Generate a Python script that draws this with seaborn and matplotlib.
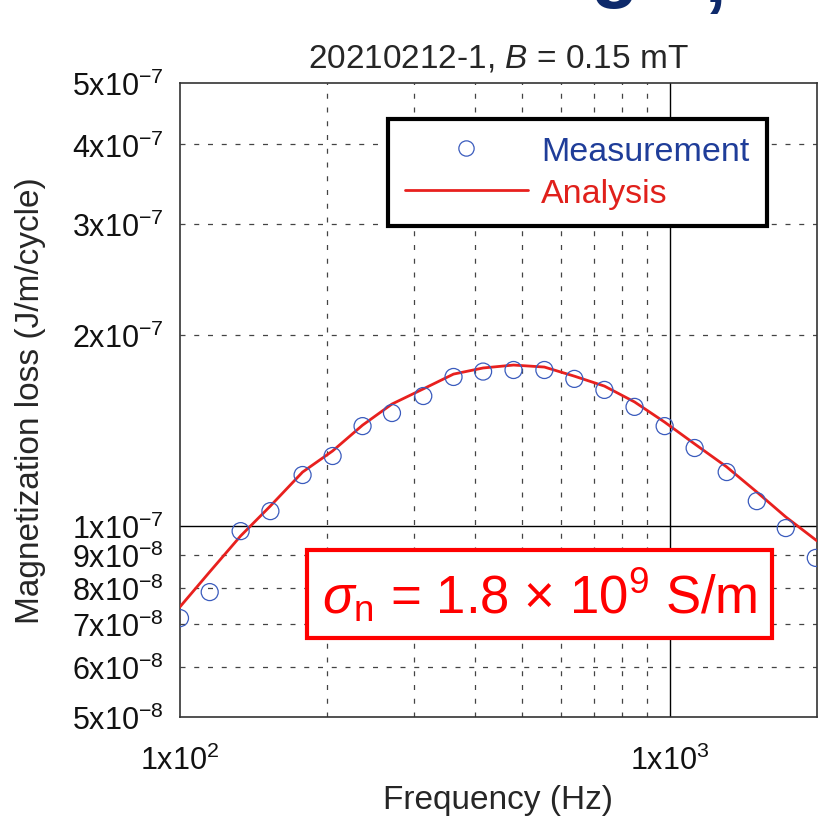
import numpy as np
import pandas as pd
import seaborn as sns
import matplotlib.pyplot as plt
from matplotlib.lines import Line2D
from matplotlib.ticker import NullLocator

meas_freq = [100, 115, 133, 153, 178, 205, 236, 271, 314, 362, 416, 480,
             555, 639, 736, 848, 977, 1125, 1308, 1507, 1727, 1989]
meas_loss = [7.16e-8, 7.87e-8, 9.82e-8, 1.056e-7, 1.204e-7, 1.290e-7, 1.438e-7,
             1.508e-7, 1.604e-7, 1.719e-7, 1.753e-7, 1.763e-7, 1.763e-7, 1.707e-7,
             1.640e-7, 1.542e-7, 1.438e-7, 1.328e-7, 1.217e-7, 1.095e-7, 9.93e-8,
             8.91e-8]

# analysis curve
ana_freq = [100, 115, 133, 153, 178, 205, 236, 271, 314, 362, 416, 480,
            555, 639, 736, 848, 977, 1125, 1308, 1507, 1727, 2000]
ana_loss = [7.46e-8, 8.47e-8, 9.65e-8, 1.076e-7, 1.217e-7, 1.314e-7, 1.443e-7,
            1.558e-7, 1.646e-7, 1.737e-7, 1.776e-7, 1.795e-7, 1.782e-7, 1.724e-7,
            1.663e-7, 1.570e-7, 1.459e-7, 1.348e-7, 1.240e-7, 1.132e-7, 1.034e-7,
            9.48e-8]

y_ticks = [5e-8, 6e-8, 7e-8, 8e-8, 9e-8, 1e-7, 2e-7, 3e-7, 4e-7, 5e-7]
y_labels = ["5x10$^{-8}$", "6x10$^{-8}$", "7x10$^{-8}$", "8x10$^{-8}$", "9x10$^{-8}$",
            "1x10$^{-7}$", "2x10$^{-7}$", "3x10$^{-7}$", "4x10$^{-7}$", "5x10$^{-7}$"]
x_ticks = [100, 1000]
x_labels = ["1x10$^{2}$", "1x10$^{3}$"]

grid_x_minor = [200, 300, 400, 500, 600, 700, 800, 900]
grid_y_minor = [6e-8, 7e-8, 8e-8, 9e-8, 2e-7, 3e-7, 4e-7]

sns.set_theme(style="white")
plt.rcParams["font.family"] = ["Liberation Sans", "DejaVu Sans"]
plt.rcParams["mathtext.fontset"] = "custom"
plt.rcParams["mathtext.rm"] = "Liberation Sans"
plt.rcParams["mathtext.it"] = "Liberation Sans:italic"

meas = pd.DataFrame({"freq": meas_freq, "loss": meas_loss})
ana = pd.DataFrame({"freq": ana_freq, "loss": ana_loss})

fig = plt.figure(figsize=(8.2, 8.2), dpi=100)
ax = fig.add_axes([0.2195, 0.1244, 0.7768, 0.7732])
ax.set_xscale("log")
ax.set_yscale("log")

for gx in grid_x_minor:
    ax.axvline(gx, color="#444444", lw=0.9, ls=(0, (4, 7)), zorder=0)
for gy in grid_y_minor:
    ax.axhline(gy, color="#444444", lw=0.9, ls=(0, (4, 7)), zorder=0)
ax.axvline(1000, color="black", lw=1, zorder=0)
ax.axhline(1e-7, color="black", lw=1, zorder=0)

sns.lineplot(data=ana, x="freq", y="loss", ax=ax, color="#e8201e", lw=2.0,
             estimator=None, sort=True, zorder=3)
sns.scatterplot(data=meas, x="freq", y="loss", ax=ax, marker="o", s=150,
                facecolor="none", edgecolor="#3a5bbd", linewidth=0.9, zorder=4)

ax.set_xlim(100, 2000)
ax.set_ylim(5e-8, 5e-7)
ax.xaxis.set_minor_locator(NullLocator())
ax.yaxis.set_minor_locator(NullLocator())
ax.set_xticks(x_ticks, x_labels)
ax.set_yticks(y_ticks, y_labels)
ax.tick_params(axis="both", length=0, labelsize=22, colors="#111111")
ax.tick_params(axis="y", pad=12)
ax.tick_params(axis="x", pad=20)

for sp in ax.spines.values():
    sp.set_color("#333333")
    sp.set_linewidth(1.2)

ax.set_title("20210212-1, $\\mathit{B}$ = 0.15 mT", fontsize=24, pad=12)
ax.set_xlabel("Frequency (Hz)", fontsize=24)
ax.set_ylabel("Magnetization loss (J/m/cycle)", fontsize=24)
ax.xaxis.set_label_coords(0.5, -0.105)
ax.yaxis.set_label_coords(-0.21, 0.5)

handles = [
    Line2D([], [], marker="o", ls="none", markersize=11, markerfacecolor="none",
           markeredgecolor="#3a5bbd", markeredgewidth=0.9),
    Line2D([], [], color="#e8201e", lw=2.0),
]
leg = ax.legend(handles, ["Measurement", "Analysis"], loc="upper right",
                bbox_to_anchor=(0.921, 0.943), borderaxespad=0, fontsize=24.5,
                handlelength=3.6, handletextpad=0.4, labelspacing=0.32,
                borderpad=0.5, fancybox=False, framealpha=1, edgecolor="black")
leg.get_frame().set_linewidth(3)
leg.texts[0].set_color("#1f3d99")
leg.texts[1].set_color("#e0201b")

ax.text(0.564, 0.194, "$\\mathit{\\sigma}_{\\mathrm{n}}$ = 1.8 $\\times$ 10$^{9}$ S/m",
        transform=ax.transAxes, ha="center", va="center", fontsize=38,
        color="#ff0000", zorder=5,
        bbox=dict(boxstyle="square,pad=0.28", facecolor="white",
                  edgecolor="#ff0000", linewidth=3))

# cut-off slide heading above the chart
fig.text(0.72, 1.008, "g", fontsize=56, fontweight="bold", color="#0e2a6b",
         ha="left", va="baseline")
fig.text(0.86, 0.997, ",", fontsize=56, fontweight="bold", color="#0e2a6b",
         ha="left", va="baseline")

fig.savefig("out.png", dpi=100)
